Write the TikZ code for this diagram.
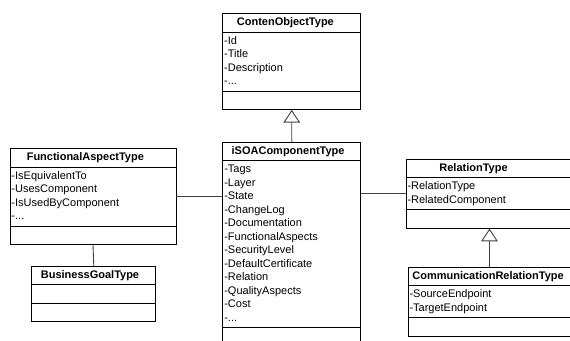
\documentclass[tikz,border=0pt]{standalone}
\usepackage{fontspec}
\setmainfont{Liberation Sans}
\usetikzlibrary{shapes.multipart,arrows.meta}
\newcommand{\umltitle}[1]{\strut\hfil\textbf{#1}\hfil\strut}
\begin{document}
\begin{tikzpicture}[x=1pt,y=-1pt,line width=0.9pt]
\tikzstyle{every node}+=[inner sep=0pt]
\tikzstyle{umlclass}=[draw=black, fill=white, rectangle split, rectangle split parts=3, inner xsep=1.5pt, inner ysep=2pt, align=left, font=\fontsize{11}{13.5}\selectfont, anchor=north]
\tikzstyle{link}=[draw=black!75]
\tikzstyle{inherit}=[draw=black!75, -{Triangle[open,length=12.7pt,width=16.6pt]}]
\clip (0,0) rectangle (570,340);
\node [umlclass, text width=135pt] (content) at (291.7,13.3) {\umltitle{ContenObjectType}\nodepart{two}\strut-Id\\-Title\\-Description\\-...\strut\nodepart{three}\strut};
\node [umlclass, text width=135pt] (iso) at (291.8,142) {\umltitle{iSOAComponentType}\nodepart{two}\strut-Tags\\-Layer\\-State\\-ChangeLog\\-Documentation\\-FunctionalAspects\\-SecurityLevel\\-DefaultCertificate\\-Relation\\-QualityAspects\\-Cost\\-...\strut\nodepart{three}\strut};
\node [umlclass, text width=163pt] (func) at (93,148.3) {\umltitle{FunctionalAspectType}\nodepart{two}\strut-IsEquivalentTo\\-UsesComponent\\-IsUsedByComponent\\-...\strut\nodepart{three}\strut};
\node [umlclass, text width=121pt] (bgoal) at (93.8,266) {\umltitle{BusinessGoalType}\nodepart{two}\strut\nodepart{three}\strut};
\node [umlclass, text width=164pt] (rel) at (489.5,159) {\umltitle{RelationType}\nodepart{two}\strut-RelationType\\-RelatedComponent\strut\nodepart{three}\strut};
\node [umlclass, text width=160pt] (comm) at (489.5,267) {\umltitle{CommunicationRelationType}\nodepart{two}\strut-SourceEndpoint\\-TargetEndpoint\strut\nodepart{three}\strut};
\draw [inherit] (iso.north) -- (content.south);
\draw [inherit] (comm.north) -- (rel.south);
\draw [link] (func.east) -- (func.east -| iso.west);
\draw [link] (rel.west) -- (rel.west -| iso.east);
\draw [link] (func.south) -- (bgoal.north);
\end{tikzpicture}
\end{document}
